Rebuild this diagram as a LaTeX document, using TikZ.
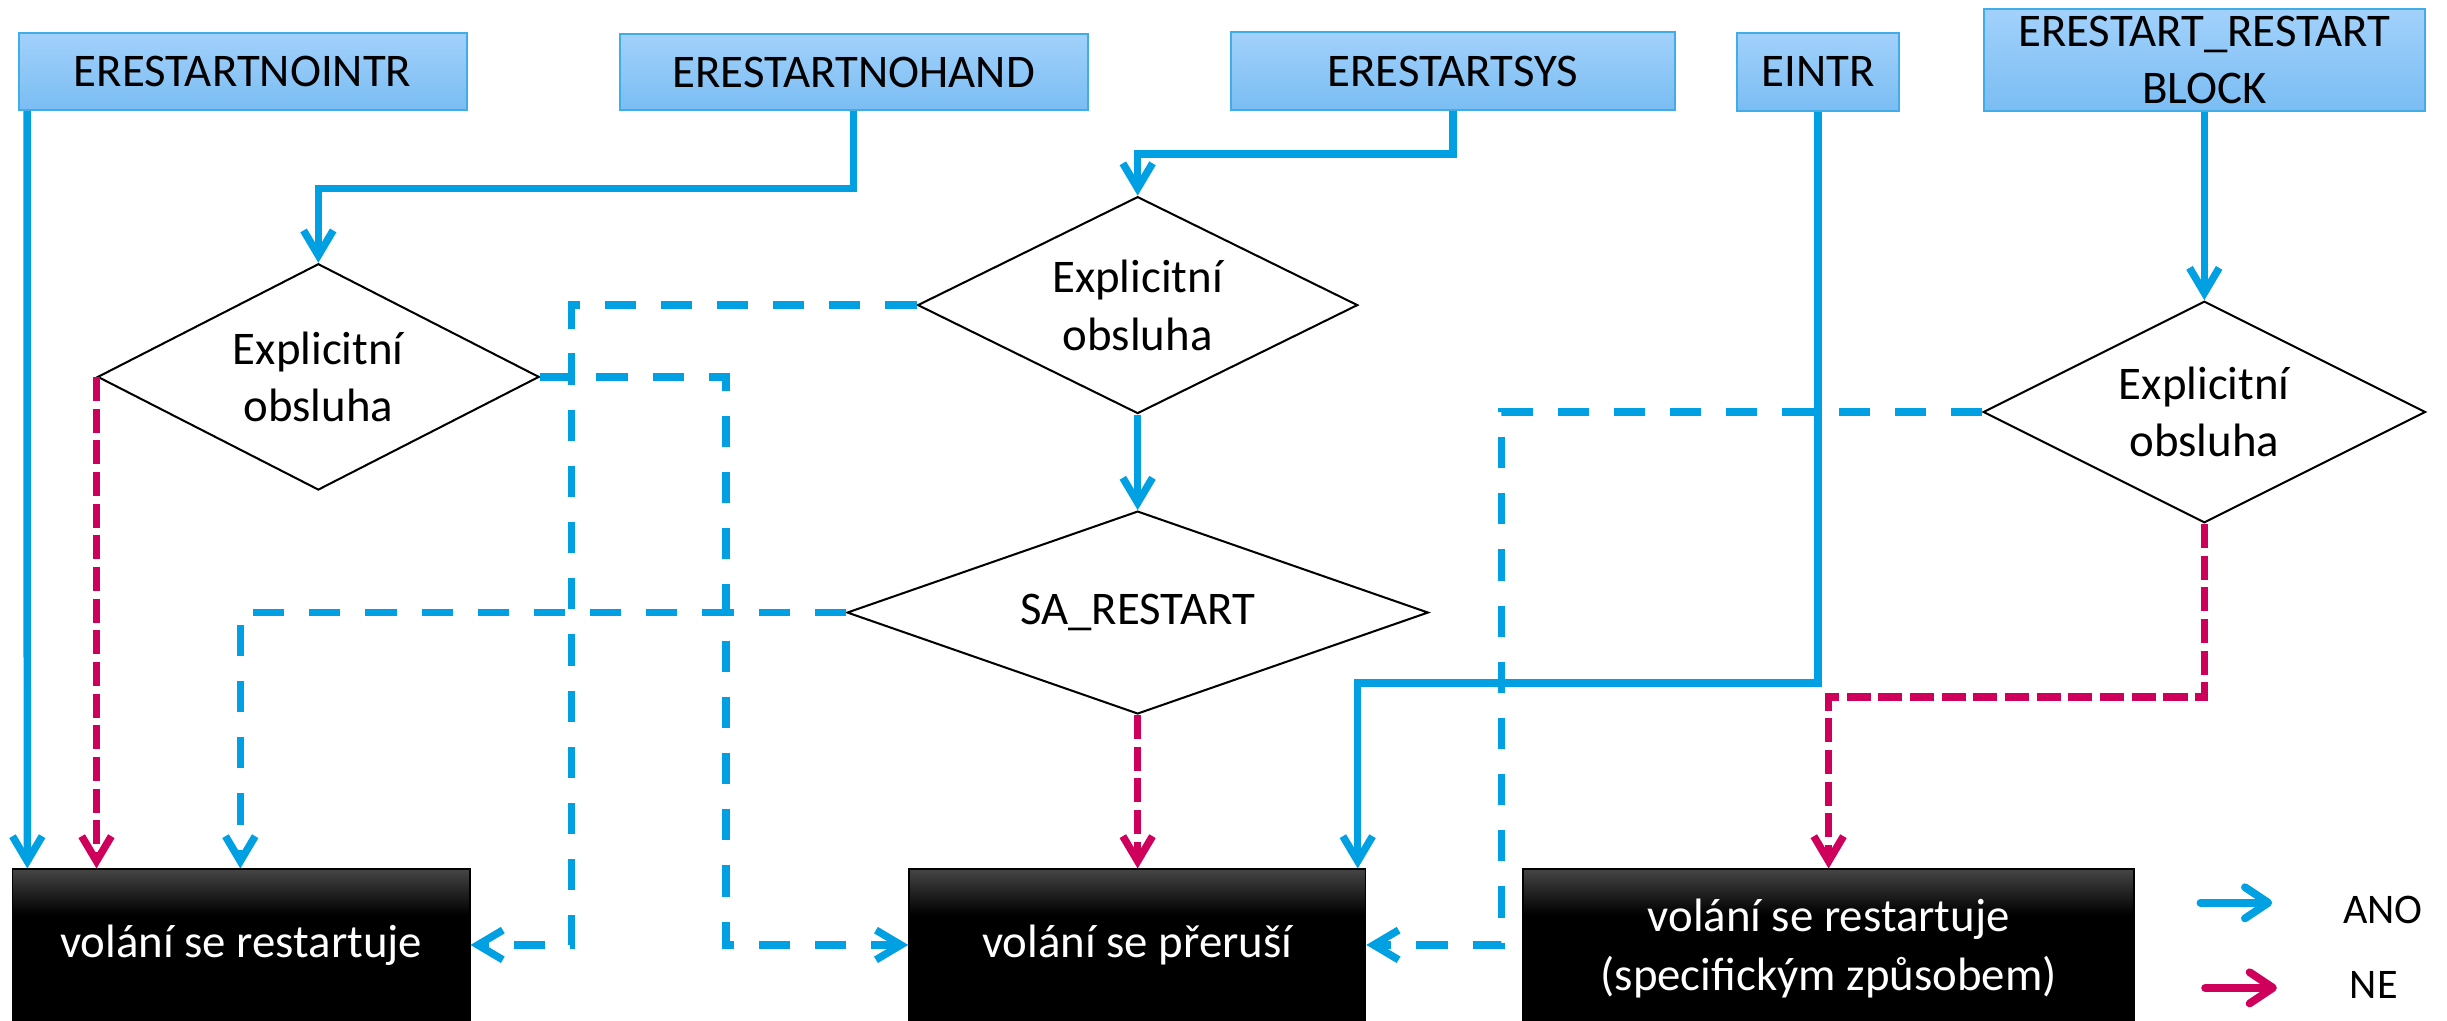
\documentclass[tikz,border=0pt]{standalone}
\usepackage{fontspec}
\setmainfont{Carlito}
\usetikzlibrary{shapes.geometric,arrows.meta}
\definecolor{lblue}{RGB}{0,160,226}
\definecolor{lpink}{RGB}{206,0,92}
\definecolor{boxtop}{RGB}{162,209,251}
\definecolor{boxbot}{RGB}{122,189,243}
\definecolor{boxline}{RGB}{64,172,232}
\pgfdeclareverticalshading{blackgrad}{100bp}{color(0bp)=(black); color(60bp)=(black); color(75bp)=(black!73); color(100bp)=(black!73)}
\begin{document}
\begin{tikzpicture}[x=1pt,y=-1pt,
  txt/.style={font=\fontsize{30}{37}\selectfont, align=center},
  srcbox/.style={txt, draw=boxline, line width=1.3pt, top color=boxtop, bottom color=boxbot, inner sep=0pt},
  endbox/.style={txt, text=white, draw=black, line width=1pt, shade, shading=blackgrad, inner sep=0pt, minimum height=97pt},
  decision/.style={txt, diamond, draw=black, line width=1.3pt, fill=white, inner sep=0pt},
  yes/.style={draw=lblue, line width=4.8pt, -{Straight Barb[length=16pt,width=19pt]}},
  yesd/.style={yes, dash pattern=on 20pt off 16pt},
  nod/.style={draw=lpink, line width=4.8pt, dash pattern=on 15.4pt off 4.9pt, -{Straight Barb[length=16pt,width=19pt]}},
  legarrow/.style={line width=5pt, line cap=round, -{Straight Barb[round,length=15pt,width=20pt]}},
  legtxt/.style={font=\fontsize{27}{31}\selectfont}
]
\useasboundingbox (0,0) rectangle (1568,654);

% source boxes
\node[srcbox, minimum width=287pt, minimum height=49.5pt] (T1) at (155.5,45.75) {ERESTARTNOINTR};
\node[srcbox, minimum width=300pt, minimum height=48.5pt] (T2) at (547,46.25) {ERESTARTNOHAND};
\node[srcbox, minimum width=284pt, minimum height=50pt] (T3) at (931,45.5) {ERESTARTSYS};
\node[srcbox, minimum width=104pt, minimum height=50pt] (T4) at (1165,46) {EINTR};
\node[srcbox, minimum width=283pt, minimum height=65pt] (T5) at (1412.5,38.5) {ERESTART\_RESTART\\BLOCK};

% decisions
\node[decision, aspect=2, minimum width=283pt, minimum height=145pt] (D1) at (204,241.5) {Explicitní\\obsluha};
\node[decision, aspect=2, minimum width=282pt, minimum height=139pt] (D2) at (729,195.5) {Explicitní\\obsluha};
\node[decision, aspect=2.8, minimum width=372.5pt, minimum height=130pt] (D3) at (729,392.5) {SA\_RESTART};
\node[decision, aspect=2, minimum width=283.5pt, minimum height=142pt] (D4) at (1412.5,264) {Explicitní\\obsluha};

% results
\node[endbox, minimum width=293pt] (B1) at (154.5,605.5) {volání se restartuje};
\node[endbox, minimum width=292.5pt] (B2) at (728.75,605.5) {volání se přeruší};
\node[endbox, minimum width=391.5pt, font=\fontsize{30}{38}\selectfont, text depth=-3pt] (B3) at (1171.75,605.5) {volání se restartuje\\(specifickým způsobem)};

% solid yes connectors
\draw[yes] ([xshift=6pt]T1.south west) -- ([xshift=10pt]B1.north west);
\draw[yes] (T2.south) -- ++(0,49.5) -| (D1.north);
\draw[yes] (T3.south) -- ++(0,27.5) -| (D2.north);
\draw[yes] (D2.south) -- (D3.north);
\draw[yes] (T4.south) -- ++(0,366) -| ([xshift=288pt]B2.north west);
\draw[yes] (T5.south) -- (D4.north);

% dashed yes connectors
\draw[yesd] (D1.east) -- ++(119,0) |- (B2.west);
\draw[yesd] (D2.west) -- ++(-221,0) |- (B1.east);
\draw[yesd] (D3.west) -| ([xshift=146.5pt]B1.north west);
\draw[yesd] (D4.west) -- ++(-308,0) |- (B2.east);

% no connectors
\draw[nod] (D1.west) -- (D1.west |- B1.north);
\draw[nod] (D3.south) -- (D3.south |- B2.north);
\draw[nod] (D4.south) -- ++(0,111) -| (B3.north);

% legend
\coordinate (L1a) at (1410,578.5);
\coordinate (L1b) at (1456,578.5);
\coordinate (L2a) at (1413,633);
\coordinate (L2b) at (1459,633);
\draw[legarrow, draw=lblue] (L1a) -- (L1b);
\draw[legarrow, draw=lpink] (L2a) -- (L2b);
\node[legtxt] (ano) at (1527,583) {ANO};
\node[legtxt] (ne) at (1521,631) {NE};
\end{tikzpicture}
\end{document}
